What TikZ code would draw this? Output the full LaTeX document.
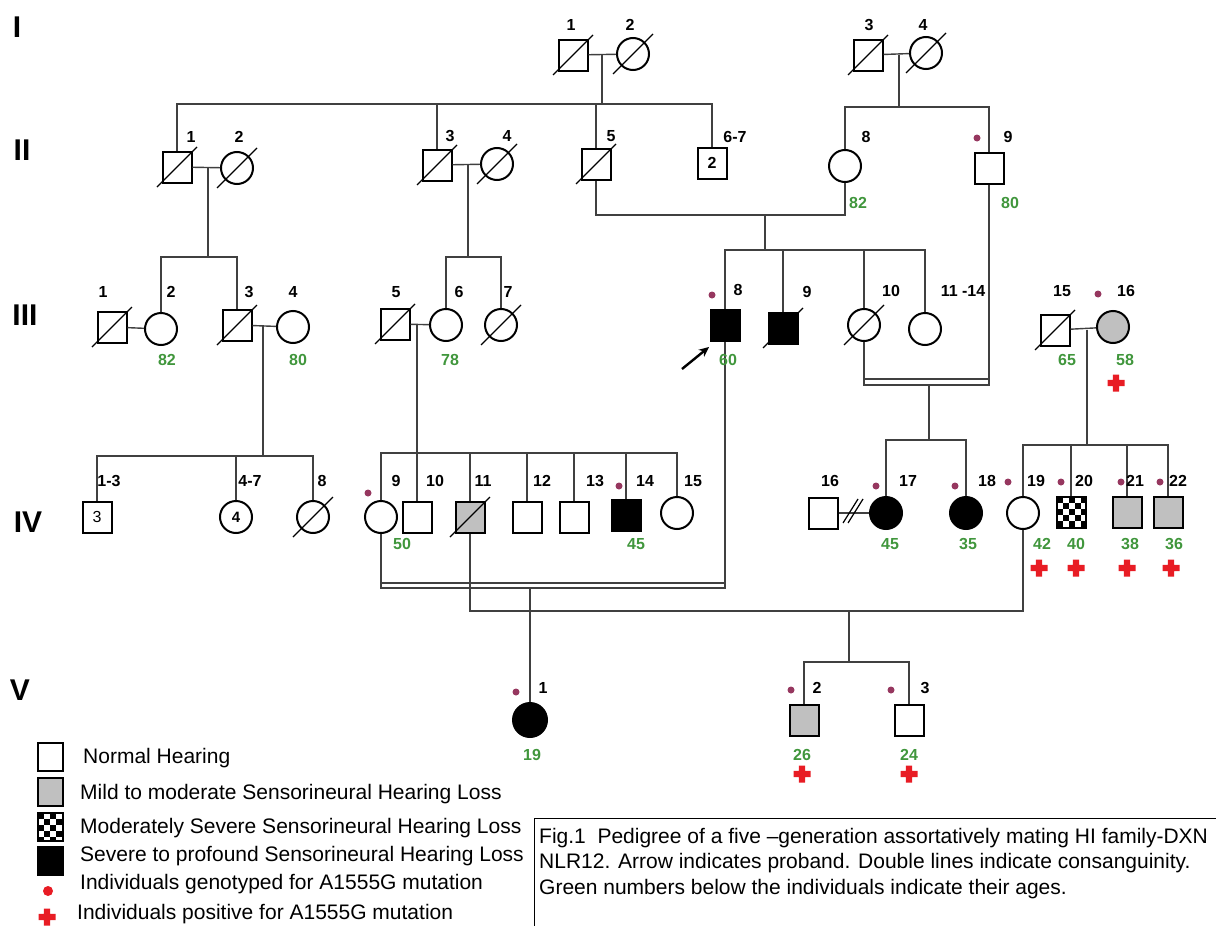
\documentclass[tikz,border=0pt]{standalone}
\usepackage{fontspec}
\setmainfont{Liberation Sans}
\usetikzlibrary{arrows.meta}
\definecolor{agegreen}{RGB}{64,150,60}
\definecolor{gtdot}{RGB}{150,55,95}
\definecolor{poscross}{RGB}{232,28,36}
\definecolor{mildgray}{RGB}{192,192,192}
\begin{document}
\begin{tikzpicture}[x=1pt,y=-1pt,
  male/.style={draw,line width=2pt,minimum width=29pt,minimum height=31pt,inner sep=0pt,font=\fontsize{16}{16}\selectfont\bfseries},
  female/.style={draw,circle,line width=2pt,minimum size=32pt,inner sep=0pt,font=\fontsize{15}{15}\selectfont\bfseries},
  affected/.style={fill=black},
  mild/.style={fill=mildgray},
  checker/.style={path picture={
    \foreach \i in {0,...,5}{\foreach \j in {0,...,5}{
      \pgfmathtruncatemacro\cc{mod(\i+\j,2)}
      \ifnum\cc=0 \fill[black] ([shift={(\i*6,\j*6)}]path picture bounding box.north west) rectangle ++(6,6);\fi}}}},
  link/.style={draw=black!75,line width=1.4pt},
  slash/.style={line width=1.3pt},
  num/.style={font=\fontsize{16}{16}\selectfont\bfseries,inner sep=0pt},
  age/.style={num,text=agegreen},
  gen/.style={font=\fontsize{30}{30}\selectfont\bfseries,inner sep=0pt},
  lgbox/.style={draw,line width=2pt,minimum width=25pt,minimum height=28pt,inner sep=0pt},
  lgtext/.style={anchor=west,inner sep=0pt,font=\fontsize{21}{21}\selectfont}
]
\useasboundingbox (0,0) rectangle (1216,926);

% generation labels
\node[gen] (gI) at (17,27) {I};
\node[gen] (gII) at (22,150) {II};
\node[gen] (gIII) at (25,315) {III};
\node[gen] (gIV) at (28,522) {IV};
\node[gen] (gV) at (20,690) {V};

% generation I
\node[male] (I1) at (573,55) {};
\node[female] (I2) at (633,54) {};
\node[male] (I3) at (868,55) {};
\node[female] (I4) at (926,53) {};

% generation II
\node[male] (II1) at (177,167) {};
\node[female] (II2) at (237,168) {};
\node[male] (II3) at (437,165) {};
\node[female] (II4) at (497,164) {};
\node[male] (II5) at (596,164) {};
\node[male] (IIg6) at (712,163) {2};
\node[female] (II8) at (845,166) {};
\node[male] (II9) at (989,168) {};

% generation III
\node[male] (III1) at (112,327) {};
\node[female] (III2) at (161,329) {};
\node[male] (III3) at (237,325) {};
\node[female] (III4) at (293,327) {};
\node[male] (III5) at (395,324) {};
\node[female] (III6) at (446,325) {};
\node[female] (III7) at (501,325) {};
\node[male,affected] (III8) at (725,325) {};
\node[male,affected] (III9) at (783,328) {};
\node[female] (III10) at (864,325) {};
\node[female] (IIIg11) at (925,329) {};
\node[male] (III15) at (1055,330) {};
\node[female,mild] (III16) at (1113,327) {};

% generation IV
\node[male,font=\fontsize{16}{16}\selectfont] (IVg1) at (97,517) {3};
\node[female] (IVg4) at (236,517) {4};
\node[female] (IV8) at (313,517) {};
\node[female] (IV9) at (381,517) {};
\node[male] (IV10) at (417,517) {};
\node[male,mild] (IV11) at (470,517) {};
\node[male] (IV12) at (527,517) {};
\node[male] (IV13) at (574,517) {};
\node[male,affected] (IV14) at (626,515) {};
\node[female] (IV15) at (677,513) {};
\node[male] (IV16) at (823,513) {};
\node[female,affected] (IV17) at (886,513) {};
\node[female,affected] (IV18) at (966,513) {};
\node[female] (IV19) at (1023,513) {};
\node[male,checker] (IV20) at (1071,512) {};
\node[male,mild] (IV21) at (1127,512) {};
\node[male,mild] (IV22) at (1168,512) {};

% generation V
\node[female,affected,minimum size=34pt] (V1) at (530,720) {};
\node[male,mild] (V2) at (804,720) {};
\node[male] (V3) at (909,720) {};

% deceased
\foreach \n in {I1,I2,I3,I4,II1,II2,II3,II4,II5,III1,III3,III5,III7,III9,III10,III15,IV8,IV11}
  \draw[slash] (\n.center) ++(-20,20) -- ++(40,-40);

% lines of descent
\coordinate (sII) at (0,104);
\coordinate (sIIr) at (0,107);
\coordinate (dI12) at (602,55);
\coordinate (dI34) at (899,55);
\draw[link] (I1) -- (I2);
\draw[link] (I3) -- (I4);
\draw[link] (dI12) -- (dI12 |- sII);
\draw[link] (II1.north) |- (IIg6 |- sII) -- (IIg6.north);
\draw[link] (II3.north) -- (II3 |- sII);
\draw[link] (II5.north) -- (II5 |- sII);
\draw[link] (dI34) -- (dI34 |- sIIr);
\draw[link] (II8.north) |- (II9 |- sIIr) -- (II9.north);

\coordinate (sIIIa) at (0,257);
\coordinate (sIIIc) at (0,250);
\coordinate (mII58) at (0,215);
\coordinate (dII12) at (208,168);
\coordinate (dII34) at (468,164);
\coordinate (dII58) at (765,215);
\draw[link] (II1) -- (II2);
\draw[link] (II3) -- (II4);
\draw[link] (dII12) -- (dII12 |- sIIIa);
\draw[link] (III2.north) |- (III3 |- sIIIa) -- (III3.north);
\draw[link] (dII34) -- (dII34 |- sIIIa);
\draw[link] (III6.north) |- (III7 |- sIIIa) -- (III7.north);
\draw[link] (II5.south) |- (II8 |- mII58) -- (II8.south);
\draw[link] (dII58) -- (dII58 |- sIIIc);
\draw[link] (III8.north) |- (IIIg11 |- sIIIc) -- (IIIg11.north);
\draw[link] (III9.north) -- (III9 |- sIIIc);
\draw[link] (III10.north) -- (III10 |- sIIIc);

% consanguineous union III-10 x II-9
\coordinate (cIII) at (0,385);
\coordinate (cIIIu) at (0,379);
\draw[link] (III10.south) |- (II9 |- cIII) -- (II9.south);
\draw[link] (III10 |- cIIIu) -- (II9 |- cIIIu);

\coordinate (sIVa) at (0,456);
\coordinate (sIVb) at (0,440);
\coordinate (sIVc) at (0,453);
\coordinate (sIVd) at (0,445);
\coordinate (dIII34) at (263,325);
\coordinate (dIII56) at (417,324);
\coordinate (dIII10) at (929,385);
\coordinate (dIII15) at (1087,330);
\draw[link] (III1) -- (III2);
\draw[link] (III3) -- (III4);
\draw[link] (III5) -- (III6);
\draw[link] (III15) -- (III16);
\draw[link] (dIII34) -- (dIII34 |- sIVa);
\draw[link] (IVg1.north) |- (IV8 |- sIVa) -- (IV8.north);
\draw[link] (IVg4.north) -- (IVg4 |- sIVa);
\draw[link] (dIII56) -- (IV10.north);
\draw[link] (IV9.north) |- (IV15 |- sIVc) -- (IV15.north);
\foreach \n in {IV11,IV12,IV13,IV14}
  \draw[link] (\n.north) -- (\n |- sIVc);
\draw[link] (dIII10) -- (dIII10 |- sIVb);
\draw[link] (IV17.north) |- (IV18 |- sIVb) -- (IV18.north);
\draw[link] (dIII15) -- (dIII15 |- sIVd);
\draw[link] (IV19.north) |- (IV22 |- sIVd) -- (IV22.north);
\draw[link] (IV20.north) -- (IV20 |- sIVd);
\draw[link] (IV21.north) -- (IV21 |- sIVd);

% IV-16 x IV-17, separated
\draw[link] (IV16) -- (IV17);
\draw[line width=1.2pt] (843,523) -- (858,499) (848,523) -- (863,499);

% consanguineous union IV-9 x III-8
\coordinate (cIV) at (0,588);
\coordinate (cIVu) at (0,583);
\coordinate (dIV9) at (530,588);
\draw[link] (IV9.south) |- (III8 |- cIV) -- (III8.south);
\draw[link] (IV9 |- cIVu) -- (III8 |- cIVu);
\draw[link] (dIV9) -- (V1.north);

% IV-11 x IV-19
\coordinate (mIV) at (0,611);
\coordinate (sV) at (0,662);
\coordinate (dIV11) at (849,611);
\draw[link] (IV11.south) |- (IV19 |- mIV) -- (IV19.south);
\draw[link] (dIV11) -- (dIV11 |- sV);
\draw[link] (V2.north) |- (V3 |- sV) -- (V3.north);

% proband
\coordinate (arrTail) at (682,369);
\coordinate (arrHead) at (709,347);
\draw[-{Stealth[length=10pt,width=9pt]},line width=2.4pt] (arrTail) -- (arrHead);

% individual numbers
\foreach \x/\y/\t [count=\k] in {571/25/1,630/25/2,869/25/3,923/25/4,
  191/137/1,239/137/2,450/136/3,507/136/4,611/136/5,735/137/6-7,866/137/8,1008/137/9,
  103/292/1,171/292/2,249/292/3,293/292/4,396/292/5,459/292/6,508/292/7,738/290/8,807/292/9,
  891/291/10,963/291/{11 -14},1062/291/15,1126/291/16,
  109/481/1-3,250/481/4-7,322/481/8,396/481/9,435/481/10,483/481/11,542/481/12,595/481/13,
  645/481/14,693/481/15,830/481/16,908/481/17,987/481/18,1036/481/19,1084/481/20,1135/481/21,1178/481/22,
  543/688/1,817/688/2,925/688/3}
  \node[num] (num\k) at (\x,\y) {\t};

% ages
\foreach \x/\y/\t [count=\k] in {858/203/82,1010/203/80,167/360/82,298/360/80,450/360/78,728/360/60,
  1067/360/65,1125/360/58,402/544/50,636/544/45,890/544/45,968/544/35,1042/544/42,1076/544/40,
  1130/544/38,1174/544/36,532/755/19,802/755/26,909/755/24}
  \node[age] (age\k) at (\x,\y) {\t};

% genotyped
\foreach \p in {(977,138),(712,295),(1098,294),(368,493),(619,486),(876,486),(955,486),(1008,482),
  (1061,482),(1121,482),(1160,482),(516,692),(791,690),(891,690)}
  \fill[gtdot] \p circle (3.5pt);

% positive
\foreach \p in {(1116,383),(1039,568),(1076,568),(1127,568),(1171,568),(802,774),(909,774)}
  \fill[poscross] \p +(-8.5,-3.2) rectangle +(8.5,3.2) +(-3.2,-8.5) rectangle +(3.2,8.5);

% legend
\node[lgbox] (lgNormal) at (50,757) {};
\node[lgbox,mild] (lgMild) at (50,792) {};
\node[lgbox,checker] (lgMod) at (50,827) {};
\node[lgbox,affected] (lgSev) at (50,861) {};
\node[circle,fill=poscross,minimum size=10pt,inner sep=0pt] (lgDot) at (48,891) {};
\fill[poscross] (47,917) +(-8.5,-3.2) rectangle +(8.5,3.2) +(-3.2,-8.5) rectangle +(3.2,8.5);
\node[lgtext] (lgNormalT) at (83,758) {Normal Hearing};
\node[lgtext] (lgMildT) at (80,794) {Mild to moderate Sensorineural Hearing Loss};
\node[lgtext] (lgModT) at (80,828) {Moderately Severe Sensorineural Hearing Loss};
\node[lgtext] (lgSevT) at (80,856) {Severe to profound Sensorineural Hearing Loss};
\node[lgtext] (lgDotT) at (80,884) {Individuals genotyped for A1555G mutation};
\node[lgtext] (lgPosT) at (77,914) {Individuals positive for A1555G mutation};

% caption
\node[draw,line width=1pt,anchor=north west,minimum width=700pt,minimum height=130pt,inner sep=0pt] (capbox) at (534,818) {};
\node[anchor=north west,inner sep=0pt,align=left,font=\fontsize{21}{25.5}\selectfont] (cap) at (539,828)
  {Fig.1~ Pedigree of a five –generation assortatively mating HI family-DXN\\
   NLR12. Arrow indicates proband. Double lines indicate consanguinity.\\
   Green numbers below the individuals indicate their ages.};
\end{tikzpicture}
\end{document}
